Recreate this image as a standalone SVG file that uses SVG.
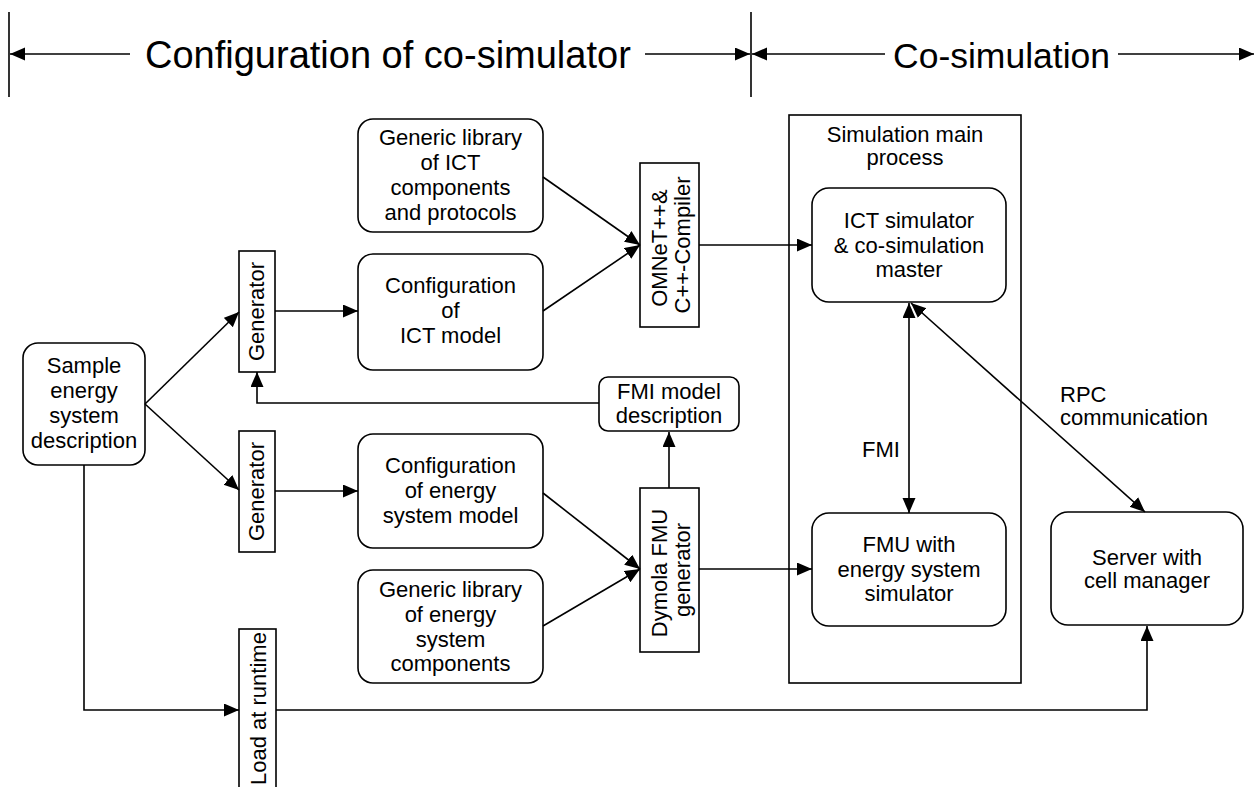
<svg xmlns="http://www.w3.org/2000/svg" width="1255" height="787" viewBox="0 0 1255 787">
  <style>
    .box { fill: #fff; stroke: #000; stroke-width: 1.6; }
    .ln { fill: none; stroke: #000; stroke-width: 1.6; }
    .arr { marker-end: url(#ah); }
    .dbl { marker-start: url(#ah); marker-end: url(#ah); }
    text { font-family: "Liberation Sans", Arial, sans-serif; font-size: 22px; fill: #000; }
    .c { text-anchor: middle; }
    .title { font-size: 38px; }
  </style>
  <defs>
    <marker id="ah" markerUnits="userSpaceOnUse" markerWidth="16" markerHeight="14" refX="15" refY="6.5" orient="auto-start-reverse">
      <path d="M0,0 L15,6.5 L0,13 z" fill="#000"/>
    </marker>
  </defs>
  <rect width="1255" height="787" fill="#fff"/>

  <!-- phase header -->
  <g id="header">
    <line class="ln" x1="9" y1="12" x2="9" y2="97"/>
    <line class="ln" x1="751" y1="12" x2="751" y2="97"/>
    <line class="ln arr" x1="130" y1="54" x2="10" y2="54"/>
    <text class="title" x="145" y="68">Configuration of co-simulator</text>
    <line class="ln arr" x1="645" y1="54" x2="750" y2="54"/>
    <line class="ln arr" x1="885" y1="54" x2="752" y2="54"/>
    <text class="title" x="893" y="68" style="font-size:35.5px">Co-simulation</text>
    <line class="ln arr" x1="1118" y1="54" x2="1254" y2="54"/>
  </g>

  <!-- container for the main simulation process -->
  <g id="main-process">
    <rect class="box" x="789" y="115" width="232" height="568"/>
    <text class="c" x="905" y="142">Simulation main</text>
    <text class="c" x="905" y="165">process</text>
  </g>

  <g id="sample">
    <rect class="box" x="23" y="343" width="122" height="122" rx="15"/>
    <text class="c" x="84" y="373">Sample</text>
    <text class="c" x="84" y="398">energy</text>
    <text class="c" x="84" y="423">system</text>
    <text class="c" x="84" y="448">description</text>
  </g>

  <g id="gen-ict">
    <rect class="box" x="239" y="251" width="36" height="121"/>
    <text class="c" transform="translate(264,311.5) rotate(-90)">Generator</text>
  </g>

  <g id="gen-energy">
    <rect class="box" x="239" y="431" width="36" height="121"/>
    <text class="c" transform="translate(264,491.5) rotate(-90)">Generator</text>
  </g>

  <g id="load-runtime">
    <rect class="box" x="239" y="629" width="37" height="200"/>
    <text transform="translate(266,785) rotate(-90)">Load at runtime</text>
  </g>

  <g id="lib-ict">
    <rect class="box" x="358" y="119" width="185" height="113" rx="15"/>
    <text class="c" x="450.5" y="145">Generic library</text>
    <text class="c" x="450.5" y="170">of ICT</text>
    <text class="c" x="450.5" y="195">components</text>
    <text class="c" x="450.5" y="220">and protocols</text>
  </g>

  <g id="conf-ict">
    <rect class="box" x="358" y="254" width="185" height="116" rx="15"/>
    <text class="c" x="450.5" y="293">Configuration</text>
    <text class="c" x="450.5" y="318">of</text>
    <text class="c" x="450.5" y="343">ICT model</text>
  </g>

  <g id="conf-energy">
    <rect class="box" x="358" y="434" width="185" height="114" rx="15"/>
    <text class="c" x="450.5" y="473">Configuration</text>
    <text class="c" x="450.5" y="498">of energy</text>
    <text class="c" x="450.5" y="523">system model</text>
  </g>

  <g id="lib-energy">
    <rect class="box" x="358" y="570" width="185" height="113" rx="15"/>
    <text class="c" x="450.5" y="597">Generic library</text>
    <text class="c" x="450.5" y="622">of energy</text>
    <text class="c" x="450.5" y="647">system</text>
    <text class="c" x="450.5" y="671">components</text>
  </g>

  <g id="omnet">
    <rect class="box" x="640" y="163" width="59" height="164"/>
    <text class="c" transform="translate(669.5,245) rotate(-90)">
      <tspan x="0" y="-3">OMNeT++&amp;</tspan>
      <tspan x="0" y="20">C++-Compiler</tspan>
    </text>
  </g>

  <g id="dymola">
    <rect class="box" x="640" y="488" width="59" height="164"/>
    <text class="c" transform="translate(669.5,570) rotate(-90)">
      <tspan x="0" y="-3">Dymola FMU</tspan>
      <tspan x="0" y="20">generator</tspan>
    </text>
  </g>

  <g id="fmi-desc">
    <rect class="box" x="599" y="377" width="140" height="54" rx="9"/>
    <text class="c" x="669" y="399">FMI model</text>
    <text class="c" x="669" y="423">description</text>
  </g>

  <g id="ict-sim">
    <rect class="box" x="812" y="188" width="194" height="114" rx="17"/>
    <text class="c" x="909" y="228">ICT simulator</text>
    <text class="c" x="909" y="253">&amp; co-simulation</text>
    <text class="c" x="909" y="277">master</text>
  </g>

  <g id="fmu">
    <rect class="box" x="812" y="513" width="194" height="113" rx="17"/>
    <text class="c" x="909" y="552">FMU with</text>
    <text class="c" x="909" y="577">energy system</text>
    <text class="c" x="909" y="601">simulator</text>
  </g>

  <g id="server">
    <rect class="box" x="1051" y="512" width="192" height="113" rx="17"/>
    <text class="c" x="1147" y="565">Server with</text>
    <text class="c" x="1147" y="588">cell manager</text>
  </g>

  <g id="connectors">
    <line class="ln arr" x1="145" y1="404" x2="239" y2="312"/>
    <line class="ln arr" x1="145" y1="404" x2="239" y2="490"/>
    <line class="ln arr" x1="275" y1="311" x2="358" y2="311"/>
    <line class="ln arr" x1="275" y1="491" x2="358" y2="491"/>
    <line class="ln arr" x1="543" y1="177" x2="640" y2="245"/>
    <line class="ln arr" x1="543" y1="311" x2="640" y2="245"/>
    <line class="ln arr" x1="699" y1="245" x2="812" y2="245"/>
    <line class="ln arr" x1="543" y1="493" x2="640" y2="569"/>
    <line class="ln arr" x1="543" y1="626" x2="640" y2="569"/>
    <line class="ln arr" x1="699" y1="569" x2="812" y2="569"/>
    <line class="ln arr" x1="669" y1="488" x2="669" y2="432"/>
    <polyline class="ln arr" points="599,403 257,403 257,372"/>
    <line class="ln dbl" x1="909" y1="303" x2="909" y2="513"/>
    <line class="ln dbl" x1="911" y1="303" x2="1145" y2="512"/>
    <polyline class="ln arr" points="84,465 84,710 239,710"/>
    <polyline class="ln arr" points="276,710 1147,710 1147,626"/>
    <text x="900" y="457" text-anchor="end">FMI</text>
    <text x="1060" y="402">RPC</text>
    <text x="1060" y="425">communication</text>
  </g>
</svg>
